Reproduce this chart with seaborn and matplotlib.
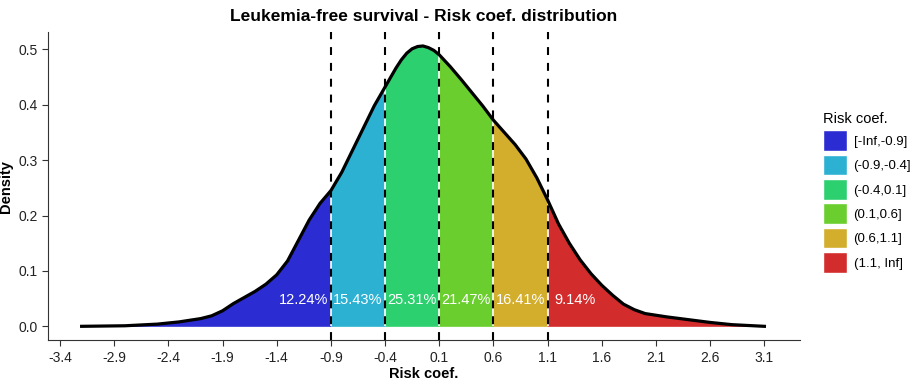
import numpy as np
import seaborn as sns
import matplotlib.pyplot as plt
from matplotlib.patches import Patch

# density curve
risk_x = [-3.2, -2.8, -2.5, -2.3, -2.1, -2.0, -1.9, -1.8, -1.7, -1.6, -1.5, -1.4, -1.3, -1.2,
          -1.1, -1.0, -0.9, -0.8, -0.7, -0.6, -0.5, -0.4, -0.3, -0.25, -0.2, -0.15, -0.1, -0.05,
          0.0, 0.05, 0.1, 0.2, 0.3, 0.4, 0.5, 0.6, 0.7, 0.8, 0.9, 1.0, 1.1, 1.2, 1.3, 1.4,
          1.5, 1.6, 1.7, 1.8, 1.9, 2.0, 2.2, 2.4, 2.6, 2.8, 3.1]
density = [0.0, 0.001, 0.004, 0.008, 0.014, 0.019, 0.028, 0.041, 0.052, 0.063, 0.076, 0.093, 0.118, 0.155,
           0.192, 0.222, 0.245, 0.278, 0.318, 0.358, 0.398, 0.432, 0.466, 0.481, 0.493, 0.501, 0.505, 0.506,
           0.503, 0.498, 0.490, 0.469, 0.446, 0.422, 0.398, 0.372, 0.350, 0.328, 0.302, 0.268, 0.228, 0.185,
           0.150, 0.120, 0.095, 0.074, 0.056, 0.040, 0.030, 0.023, 0.017, 0.012, 0.007, 0.003, 0.0]

cuts = [-0.9, -0.4, 0.1, 0.6, 1.1]
groups = ["[-Inf,-0.9]", "(-0.9,-0.4]", "(-0.4,0.1]", "(0.1,0.6]", "(0.6,1.1]", "(1.1, Inf]"]
pcts = ["12.24%", "15.43%", "25.31%", "21.47%", "16.41%", "9.14%"]
label_x = [-1.15, -0.65, -0.15, 0.35, 0.85, 1.35]
colors = ["#2b2dd3", "#2cb1d3", "#2dd06e", "#6acf2e", "#d3ae2c", "#d32c2c"]

plt.rcParams['font.family'] = ['Liberation Sans', 'DejaVu Sans']
fig = plt.figure(figsize=(9.15, 3.87), dpi=100)
ax = fig.add_axes([0.0525, 0.121, 0.822, 0.796])

x = np.array(risk_x)
y = np.array(density)
edges = [-np.inf] + cuts + [np.inf]
for i in range(len(groups)):
    m = (x >= edges[i]) & (x <= edges[i + 1])
    ax.fill_between(x[m], 0, y[m], color=colors[i], lw=0)

# white separators under the dashed lines
for c in cuts:
    ax.vlines(c, 0, np.interp(c, x, y), color="white", lw=1.2)

sns.lineplot(x=risk_x, y=density, ax=ax, color="black", lw=2.3)

for c in cuts:
    ax.axvline(c, color="black", ls=(0, (3.8, 3.8)), lw=1.5)

for lx, p in zip(label_x, pcts):
    ax.text(lx, 0.047, p, color="white", ha="center", va="center", fontsize=10.5)

ax.set_xlim(-3.51, 3.43)
ax.set_ylim(-0.025, 0.531)
ticks = np.round(np.arange(-3.4, 3.2, 0.5), 1)
ax.set_xticks(ticks)
ax.set_xticklabels([f"{v:.1f}" for v in ticks])
ax.set_yticks([0.0, 0.1, 0.2, 0.3, 0.4, 0.5])
ax.set_yticklabels(["0.0", "0.1", "0.2", "0.3", "0.4", "0.5"])
ax.tick_params(labelsize=10, length=4, color="#333333", labelcolor="#222222")
sns.despine(ax=ax)
for s in ["left", "bottom"]:
    ax.spines[s].set_color("#333333")
ax.set_xlabel("Risk coef.", fontweight="bold", fontsize=10.5, labelpad=2)
ax.set_ylabel("Density", fontweight="bold", fontsize=10.5, labelpad=4)
ax.set_title("Leukemia-free survival - Risk coef. distribution", fontweight="bold", fontsize=12.5, pad=8)

handles = [Patch(facecolor=c, edgecolor="white", lw=1) for c in colors]
leg = fig.legend(handles, groups, title="Risk coef.", loc="upper left", bbox_to_anchor=(0.886, 0.74),
                 frameon=False, fontsize=9.5, title_fontsize=10.5, handlelength=1.85, handleheight=2.0,
                 handletextpad=0.5, labelspacing=0.3)
leg._legend_box.align = "left"

fig.savefig("out.png", dpi=100)
